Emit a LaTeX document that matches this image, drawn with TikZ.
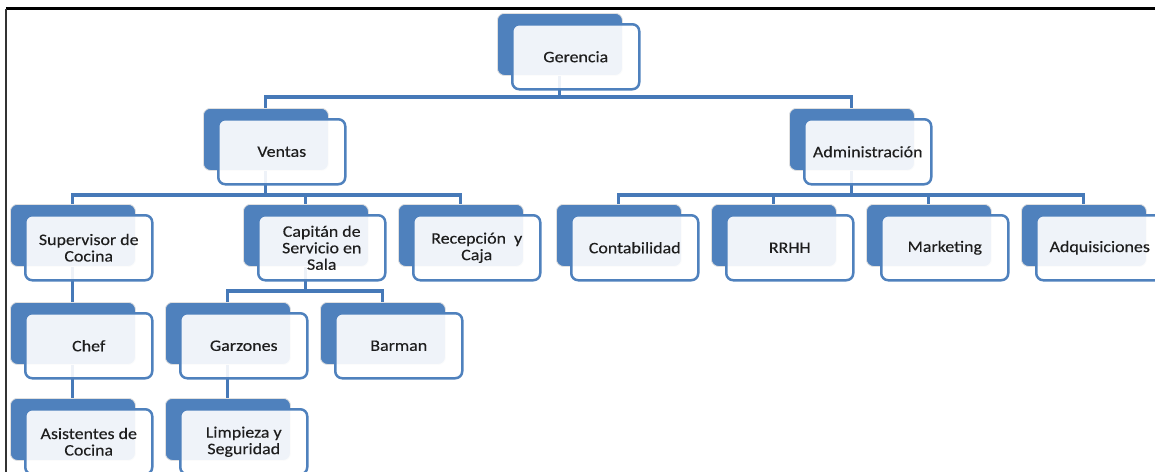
\documentclass[tikz,border=0pt]{standalone}
\usepackage{fontspec}
\setmainfont{Carlito}[FakeStretch=1.12,FakeBold=0.25]
\pgfdeclarelayer{bg}
\pgfsetlayers{bg,main}
\definecolor{blueA}{HTML}{4F81BD}
\definecolor{lineA}{HTML}{4679B8}
\definecolor{txt}{HTML}{1E1E1E}
\tikzset{
  backbox/.style={rectangle, rounded corners=7pt, fill=blueA, draw=black!12, line width=0.8pt,
    minimum width=125pt, minimum height=62pt, anchor=north west, inner sep=0pt},
  frontbox/.style={rectangle, rounded corners=7pt, fill=white, fill opacity=0.91, text opacity=1,
    draw=blueA, line width=2.5pt, minimum width=127pt, minimum height=65pt, anchor=north west,
    inner sep=0pt, align=center, text=txt, font=\fontsize{16}{16.5}\selectfont},
  conn/.style={draw=lineA, line width=3.1pt},
  frameline/.style={draw=black, line width=2.7pt}
}
\newcommand\orgbox[4]{%
  \node[backbox] (#1B) at (#2,#3) {};
  \node[frontbox] (#1) at ({#2+14},{#3+10}) {#4};}
\begin{document}
\begin{tikzpicture}[x=1pt,y=-1pt]
\useasboundingbox (0,0) rectangle (1155,471);
\clip (0,0) rectangle (1155,471);
% frame
\coordinate (fTL) at (6.2,8.7);
\coordinate (fTR) at (1160,8.7);
\coordinate (fBL) at (6.2,480);
\draw[frameline] (fTR) -- (fTL);
\draw[draw=black!80, line width=2pt] (fTL) -- (fBL);
% boxes
\orgbox{ger}{497}{13}{Gerencia}
\orgbox{ven}{203}{108}{Ventas}
\orgbox{adm}{789}{108}{Administración}
\orgbox{sup}{10}{204}{Supervisor de\\Cocina}
\orgbox{cap}{243}{204}{Capitán de\\Servicio en\\Sala}
\orgbox{rec}{398}{204}{Recepción~ y\\Caja}
\orgbox{con}{556}{204}{Contabilidad}
\orgbox{rrh}{711}{204}{RRHH}
\orgbox{mar}{866}{204}{Marketing}
\orgbox{adq}{1021}{204}{Adquisiciones}
\orgbox{chef}{10}{302}{Chef}
\orgbox{gar}{165}{302}{Garzones}
\orgbox{bar}{320}{302}{Barman}
\orgbox{asi}{10}{398}{Asistentes de\\Cocina}
\orgbox{lim}{165}{398}{Limpieza y\\Seguridad}
% connectors
\coordinate (busA) at (0,97);
\coordinate (busB) at (0,195);
\coordinate (busC) at (0,291);
\begin{pgfonlayer}{bg}
\draw[conn] (gerB.south) -- (gerB.south |- busA) -| (venB.north);
\draw[conn] (gerB.south |- busA) -| (admB.north);
\draw[conn] (venB.south) -- (venB.south |- busB) -| (supB.north);
\draw[conn] (venB.south |- busB) -| (capB.north);
\draw[conn] (venB.south |- busB) -| (recB.north);
\draw[conn] (admB.south) -- (admB.south |- busB) -| (conB.north);
\draw[conn] (admB.south |- busB) -| (rrhB.north);
\draw[conn] (admB.south |- busB) -| (marB.north);
\draw[conn] (admB.south |- busB) -| (adqB.north);
\draw[conn] (supB.south) -- (chefB.north);
\draw[conn] (chefB.south) -- (asiB.north);
\draw[conn] (capB.south) -- (capB.south |- busC) -| (garB.north);
\draw[conn] (capB.south |- busC) -| (barB.north);
\draw[conn] (garB.south) -- (limB.north);
\end{pgfonlayer}
\end{tikzpicture}
\end{document}
